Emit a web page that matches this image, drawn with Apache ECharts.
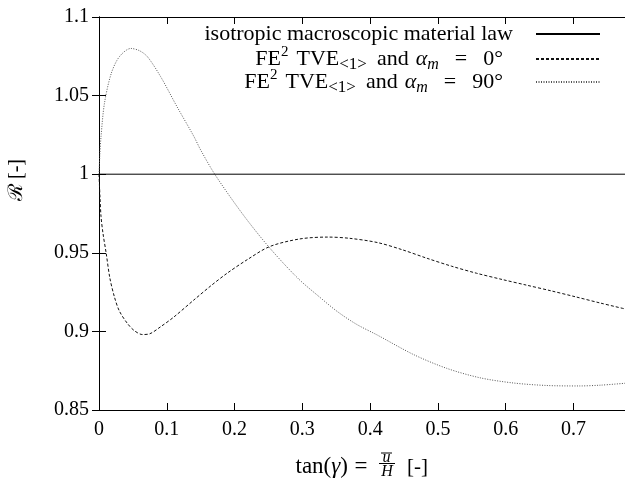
<!DOCTYPE html>
<html>
<head>
<meta charset="utf-8">
<script src="https://cdn.jsdelivr.net/npm/echarts@6/dist/echarts.min.js"></script>
<style>
html,body{margin:0;padding:0;background:#fff;}
#c{width:625px;height:482px;}
</style>
</head>
<body>
<div id="c"></div>
<script>
// ---- data ----
const seriesNames = [
  'isotropic macroscopic material law',
  'FE2 TVE<1> and alpha_m = 0',
  'FE2 TVE<1> and alpha_m = 90'
];
const isoX = [0, 0.776];
const isoY = [1, 1];
const a0X = [0, 0.0015, 0.003, 0.006, 0.0105, 0.016, 0.0227, 0.03, 0.042, 0.052, 0.064, 0.075, 0.091, 0.11, 0.14, 0.165, 0.189, 0.22, 0.252, 0.296, 0.3375, 0.37, 0.411, 0.447, 0.484, 0.52, 0.557, 0.595, 0.63, 0.667, 0.703, 0.74, 0.776];
const a0Y = [1.0, 0.985, 0.973, 0.962, 0.95, 0.934, 0.922, 0.913, 0.905, 0.9005, 0.898, 0.8985, 0.903, 0.909, 0.92, 0.929, 0.937, 0.946, 0.954, 0.9588, 0.96, 0.9592, 0.9565, 0.952, 0.9465, 0.9415, 0.937, 0.933, 0.9295, 0.9258, 0.922, 0.918, 0.9143];
const a90X = [0, 0.0012, 0.003, 0.008, 0.018, 0.03, 0.047, 0.06, 0.0715, 0.091, 0.115, 0.14, 0.15, 0.1715, 0.213, 0.252, 0.2934, 0.325, 0.352, 0.38, 0.4105, 0.4644, 0.513, 0.562, 0.611, 0.66, 0.708, 0.74, 0.776];
const a90Y = [1.0, 1.012, 1.024, 1.045, 1.064, 1.0747, 1.08, 1.0785, 1.0747, 1.062, 1.043, 1.024, 1.0154, 0.9995, 0.974, 0.953, 0.9338, 0.922, 0.9125, 0.9045, 0.8977, 0.8852, 0.8765, 0.8705, 0.8672, 0.8656, 0.8653, 0.8658, 0.867];
const xTicks = {min: 0, max: 0.776, interval: 0.1};
const yTicks = {min: 0.85, max: 1.1, interval: 0.05};

const zip = (xs, ys) => xs.map((x, i) => [x, ys[i]]);
const FONT = "'Liberation Serif','DejaVu Serif',serif";

const chart = echarts.init(document.getElementById('c'), null, {renderer: 'canvas'});

const axisCommon = {
  type: 'value',
  axisLine: {show: true, lineStyle: {color: '#000', width: 1}},
  axisTick: {show: true, inside: true, length: 7, lineStyle: {color: '#000', width: 1}},
  splitLine: {show: false},
};

const legendRich = {
  sup: {fontSize: 15, fontFamily: FONT, color: '#000', verticalAlign: 'top', lineHeight: 14},
  sub: {fontSize: 17, fontFamily: FONT, color: '#000', verticalAlign: 'bottom', lineHeight: 16},
  i: {fontSize: 22, fontFamily: FONT, color: '#000', fontStyle: 'italic', lineHeight: 28},
  isub: {fontSize: 16, fontFamily: FONT, color: '#000', fontStyle: 'italic', verticalAlign: 'bottom', lineHeight: 15},
  s7: {width: 7, fontSize: 22},
  s8: {width: 8, fontSize: 22},
  s10: {width: 10, fontSize: 22},
  s16: {width: 16, fontSize: 22},
  gap: {width: 18, fontSize: 22},
  gap2: {width: 28, fontSize: 22}
};
const legendLabels = [
  'isotropic macroscopic material law{gap| }',
  'FE{sup|2}{s8| }TVE{sub|<1>}{s10| }and{s7| }{i|α}{isub|m}{s16| }={s16| }0°{gap2| }',
  'FE{sup|2}{s8| }TVE{sub|<1>}{s10| }and{s7| }{i|α}{isub|m}{s16| }={s16| }90°{gap2| }'
];
const legendTops = [20, 45, 68];

function makeLegend(k) {
  return {
    data: [seriesNames[k]],
    right: 24,
    top: legendTops[k],
    padding: 0,
    orient: 'vertical',
    align: 'right',
    itemWidth: 64,
    itemHeight: 12,
    selectedMode: false,
    itemStyle: {opacity: 0},
    formatter: () => legendLabels[k],
    textStyle: {fontSize: 22, fontFamily: FONT, color: '#000', lineHeight: 28, rich: legendRich}
  };
}

const styles = [
  {color: '#000', width: 1, type: 'solid'},
  {color: '#111', width: 1, type: [3, 2]},
  {color: '#555', width: 1, type: [1, 1.5]}
];
const dataSets = [zip(isoX, isoY), zip(a0X, a0Y), zip(a90X, a90Y)];

chart.setOption({
  animation: false,
  backgroundColor: '#fff',
  grid: {left: 99, right: -4, top: 17, bottom: 72, containLabel: false},
  xAxis: [
    Object.assign({}, axisCommon, {
      position: 'bottom', min: xTicks.min, max: xTicks.max, interval: xTicks.interval,
      axisLabel: {show: true, showMaxLabel: false, margin: 10, fontSize: 20, fontFamily: FONT, color: '#000'}
    }),
    Object.assign({}, axisCommon, {
      position: 'top', min: xTicks.min, max: xTicks.max, interval: xTicks.interval,
      axisLabel: {show: false}
    })
  ],
  yAxis: [
    Object.assign({}, axisCommon, {
      position: 'left', min: yTicks.min, max: yTicks.max, interval: yTicks.interval,
      axisLabel: {show: true, margin: 10, fontSize: 20, fontFamily: FONT, color: '#000'}
    }),
    Object.assign({}, axisCommon, {
      position: 'right', min: yTicks.min, max: yTicks.max, interval: yTicks.interval,
      axisLabel: {show: false}
    })
  ],
  legend: [makeLegend(0), makeLegend(1), makeLegend(2)],
  series: dataSets.map((d, k) => ({
    name: seriesNames[k],
    type: 'line',
    data: d,
    symbol: 'none',
    smooth: k === 0 ? false : 0.3,
    lineStyle: styles[k],
    itemStyle: {color: styles[k].color},
    z: 3 - k
  })),
  graphic: [
    {type: 'text', x: 348, y: 467, style: {
      text: 'tan({i|γ})', align: 'right', verticalAlign: 'middle',
      font: "23px " + FONT, fill: '#000',
      rich: {i: {fontStyle: 'italic', fontSize: 23, fontFamily: FONT}}
    }},
    {type: 'text', x: 361, y: 467, style: {text: '=', align: 'center', verticalAlign: 'middle', font: "23px " + FONT, fill: '#000'}},
    {type: 'line', shape: {x1: 381, y1: 453, x2: 392, y2: 453}, style: {stroke: '#000', lineWidth: 1}},
    {type: 'text', x: 386.5, y: 458, style: {text: 'u', align: 'center', verticalAlign: 'middle', font: "italic 16px " + FONT, fill: '#000'}},
    {type: 'line', shape: {x1: 379, y1: 463.5, x2: 395, y2: 463.5}, style: {stroke: '#000', lineWidth: 1}},
    {type: 'text', x: 387, y: 472, style: {text: 'H', align: 'center', verticalAlign: 'middle', font: "italic 16px " + FONT, fill: '#000'}},
    {type: 'text', x: 407, y: 467, style: {text: '[-]', align: 'left', verticalAlign: 'middle', font: "21px " + FONT, fill: '#000'}},
    {type: 'text', x: 17, y: 180, rotation: Math.PI / 2, style: {text: 'ℛ [-]', align: 'center', verticalAlign: 'middle', font: "20px " + FONT, fill: '#000'}}
  ]
});
</script>
</body>
</html>
